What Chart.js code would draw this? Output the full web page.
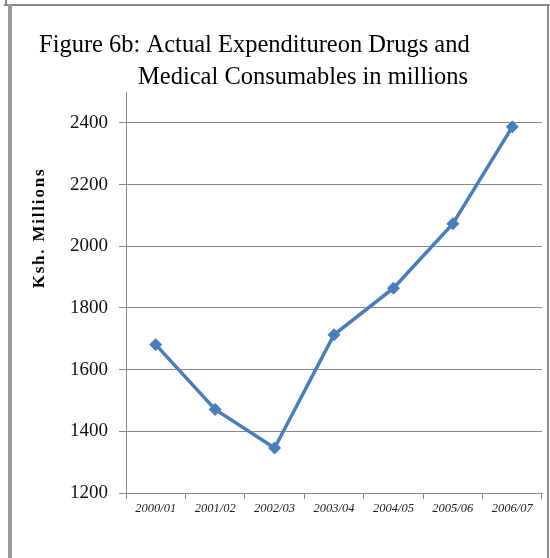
<!DOCTYPE html>
<html>
<head>
<meta charset="utf-8">
<title>Figure 6b</title>
<script src="https://cdn.jsdelivr.net/npm/chart.js@4.4.1/dist/chart.umd.min.js"></script>
<style>
    html, body { margin: 0; padding: 0; background: #fff; }
    #wrap { position: relative; width: 550px; height: 558px; }
</style>
</head>
<body>
<div id="wrap"><canvas id="gasto" width="550" height="558"></canvas></div>
<script>
// años fiscales y gasto (Ksh. millones)
const anios = ['2000/01', '2001/02', '2002/03', '2003/04', '2004/05', '2005/06', '2006/07'];
const gasto = [1681, 1471, 1346, 1713, 1864, 2073, 2387];
const tituloLineas = ['Figure 6b: Actual Expenditureon Drugs and', 'Medical Consumables in millions'];
const tituloEje = 'Ksh. Millions';
const ejeMin = 1200;
const ejeMax = 2500;
const paso = 200;

const azul = '#4a7ebb';
const gris = '#8a8a8a';

// marco de la tabla + titulo + nombre del eje
const textos = {
    id: 'textos',
    beforeDraw(chart) {
        const ctx = chart.ctx;
        ctx.save();
        ctx.fillStyle = '#fff';
        ctx.fillRect(0, 0, chart.width, chart.height);
        ctx.strokeStyle = gris;
        ctx.lineWidth = 2;
        ctx.beginPath();
        ctx.moveTo(4, 5); ctx.lineTo(550, 5);
        ctx.moveTo(6, 0); ctx.lineTo(6, 5);
        ctx.moveTo(548, 5); ctx.lineTo(548, 558);
        ctx.stroke();
        ctx.strokeStyle = '#9a9a9a';
        ctx.lineWidth = 4;
        ctx.beginPath();
        ctx.moveTo(10, 5); ctx.lineTo(10, 558);
        ctx.stroke();
        ctx.restore();
    },
    afterDraw(chart) {
        const ctx = chart.ctx;
        ctx.save();
        ctx.fillStyle = '#000';
        ctx.font = '24.5px "Liberation Serif"';
        ctx.textAlign = 'left';
        ctx.textBaseline = 'alphabetic';
        ctx.fillText(tituloLineas[0], 39, 52);
        ctx.fillText(tituloLineas[1], 138, 84);

        ctx.translate(40, 228);
        ctx.rotate(-Math.PI / 2);
        ctx.font = 'bold 17px "Liberation Serif"';
        ctx.letterSpacing = '1.8px';
        ctx.textAlign = 'center';
        ctx.textBaseline = 'middle';
        ctx.fillText(tituloEje, 0, 0);
        ctx.restore();
    }
};

const ctx = document.getElementById('gasto');
const grafico = new Chart(ctx, {
    type: 'line',
    data: {
        labels: anios,
        datasets: [{
            data: gasto,
            borderColor: azul,
            backgroundColor: azul,
            borderWidth: 3.5,
            tension: 0,
            pointStyle: 'rectRot',
            pointRadius: 6,
            pointHoverRadius: 6,
            pointBackgroundColor: azul,
            pointBorderColor: azul,
            pointBorderWidth: 1
        }]
    },
    options: {
        responsive: false,
        animation: false,
        events: [],
        devicePixelRatio: 1,
        layout: { padding: { top: 92, right: 8, left: 0, bottom: 0 } },
        plugins: {
            legend: { display: false },
            title: { display: false },
            tooltip: { enabled: false }
        },
        scales: {
            x: {
                offset: true,
                afterFit: (s) => { s.height = 65; },
                grid: { display: true, drawOnChartArea: false, offset: true, color: gris, tickLength: 6 },
                border: { color: gris },
                ticks: {
                    color: '#222',
                    padding: 2,
                    maxRotation: 0,
                    autoSkip: false,
                    font: { family: '"Liberation Serif"', style: 'italic', size: 12.5 }
                }
            },
            y: {
                min: ejeMin,
                max: ejeMax,
                afterFit: (s) => { s.width = 126; },
                grid: { color: gris, tickLength: 7 },
                border: { color: gris },
                ticks: {
                    stepSize: paso,
                    includeBounds: false,
                    color: '#111',
                    padding: 11,
                    callback: (v) => String(v),
                    font: { family: '"Liberation Serif"', size: 19 }
                }
            }
        }
    },
    plugins: [textos]
});
</script>
</body>
</html>
